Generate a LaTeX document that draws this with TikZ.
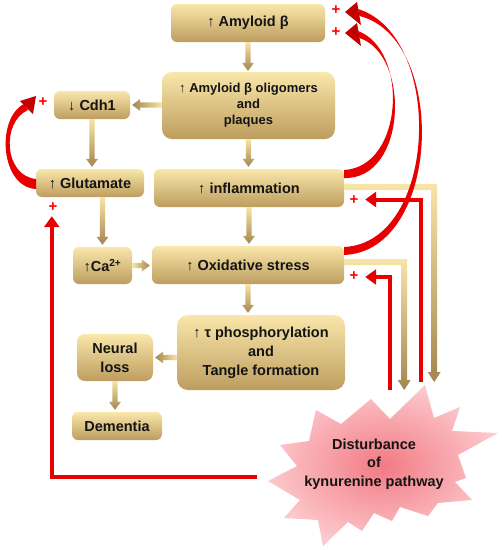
\documentclass[tikz,border=0pt]{standalone}
\usepackage{fontspec}
\setmainfont{Liberation Sans}
\usetikzlibrary{arrows.meta,calc}
\definecolor{boxL}{HTML}{FAE7AA}
\definecolor{boxM}{HTML}{E4CA8B}
\definecolor{boxD}{HTML}{BD9D5F}
\definecolor{goldL}{HTML}{F8E4A6}
\definecolor{goldD}{HTML}{A4864F}
\definecolor{redA}{HTML}{E80000}
\definecolor{redH}{HTML}{C20000}
\definecolor{plusR}{HTML}{FF0000}
\definecolor{pinkC}{HTML}{F27A84}
\definecolor{pinkE}{HTML}{FCC8CB}
\newcommand\gdown[3]{\shade[top color=goldL,bottom color=goldD] let \p1=(#1),\p2=(#2),\p3=(#3) in (\x1-2.6pt,\y2) -- (\x1+2.6pt,\y2) -- (\x1+2.6pt,\y3+8pt) -- (\x1+6pt,\y3+8pt) -- (\x1,\y3) -- (\x1-6pt,\y3+8pt) -- (\x1-2.6pt,\y3+8pt) -- cycle;}
\newcommand\gleft[3]{\shade[left color=goldD,right color=goldL] let \p1=(#1),\p2=(#2),\p3=(#3) in (\x2,\y1+2.6pt) -- (\x3+8pt,\y1+2.6pt) -- (\x3+8pt,\y1+6pt) -- (\x3,\y1) -- (\x3+8pt,\y1-6pt) -- (\x3+8pt,\y1-2.6pt) -- (\x2,\y1-2.6pt) -- cycle;}
\newcommand\gright[3]{\shade[left color=goldL,right color=goldD] let \p1=(#1),\p2=(#2),\p3=(#3) in (\x2,\y1+2.6pt) -- (\x3-8pt,\y1+2.6pt) -- (\x3-8pt,\y1+6pt) -- (\x3,\y1) -- (\x3-8pt,\y1-6pt) -- (\x3-8pt,\y1-2.6pt) -- (\x2,\y1-2.6pt) -- cycle;}
\tikzset{
  box/.style={rounded corners=6pt, top color=boxL, middle color=boxM, bottom color=boxD,
    inner sep=0pt, align=center, text=black!92, font=\bfseries\fontsize{14.5}{19}\selectfont},
  redln/.style={draw=redA, line width=4pt, line join=miter, -{Triangle[length=11pt,width=15pt]}},
  plus/.style={text=plusR, font=\bfseries\fontsize{15}{15}\selectfont, inner sep=0pt},
}
\begin{document}
\begin{tikzpicture}[x=1pt,y=-1pt]
\useasboundingbox (0,0) rectangle (502,550);
\fill[white] (0,0) rectangle (502,550);

% starburst
\shade[inner color=pinkC, outer color=pinkE]
 (425,385) -- (434,418) -- (460,407) -- (452,431) -- (498,433) -- (458,455) -- (466,478) -- (455,482)
 -- (472,500) -- (438,503) -- (428,516) -- (400,507) -- (392,521) -- (374,513) -- (362,531) -- (348,522)
 -- (323,546) -- (318,520) -- (284,518) -- (300,500) -- (268,481) -- (297,466) -- (280,445) -- (309,441)
 -- (316,410) -- (341,424) -- (371,399) -- (390,419) -- cycle;
\node[align=center, inner sep=0pt, text=black!92, font=\bfseries\fontsize{14.5}{18.5}\selectfont] (kyn) at (374,464) {Disturbance\\of\\kynurenine pathway};

% boxes
\node[box, minimum width=154pt, minimum height=38pt] (amy) at (248,23) {↑ Amyloid β};
\node[box, rounded corners=10pt, minimum width=173pt, minimum height=67pt, font=\bfseries\fontsize{13}{16}\selectfont] (olig) at (248.5,105.5) {↑ Amyloid β oligomers\\and\\plaques};
\node[box, minimum width=76pt, minimum height=28pt] (cdh) at (92,105) {↓ Cdh1};
\node[box, minimum width=108pt, minimum height=28pt] (glu) at (90,183) {↑ Glutamate};
\node[box, minimum width=190pt, minimum height=38pt] (infl) at (249,188) {↑ inflammation};
\node[box, minimum width=59pt, minimum height=37pt] (ca) at (102.5,265.5) {↑Ca\textsuperscript{2+}};
\node[box, minimum width=192pt, minimum height=38pt] (ox) at (248,265) {↑ Oxidative stress};
\node[box, rounded corners=11pt, minimum width=168pt, minimum height=75pt] (tau) at (261,352.5) {↑ τ phosphorylation\\and\\Tangle formation};
\node[box, rounded corners=8pt, minimum width=76pt, minimum height=47pt] (neu) at (115,357.5) {Neural\\loss};
\node[box, minimum width=90pt, minimum height=28pt] (dem) at (117,426) {Dementia};

% gold arrows between boxes
\gdown{amy.south}{amy.south}{$(olig.north)+(0,-1)$}
\gleft{cdh.east}{olig.west}{$(cdh.east)+(2,0)$}
\gdown{cdh.south}{cdh.south}{$(glu.north)+(0,-2)$}
\gdown{olig.south}{olig.south}{$(infl.north)+(0,-2)$}
\gdown{ca.north}{glu.south}{$(ca.north)+(0,-2)$}
\gright{ca.east}{ca.east}{$(ox.west)+(-2,0)$}
\gdown{infl.south}{infl.south}{$(ox.north)+(0,-2)$}
\gdown{ox.south}{ox.south}{$(tau.north)+(0,-2)$}
\gleft{neu.east}{tau.west}{$(neu.east)+(2,0)$}
\gdown{neu.south}{neu.south}{$(dem.north)+(0,-2)$}

% gold L-shaped arrows to the kynurenine pathway
\shade[top color=goldL, bottom color=goldD] ($(infl.east)+(0,-4)$) -- ++(93,0) -- ++(0,188) -- ++(3.5,0) -- ++(-6.5,10) -- ++(-6.5,-10) -- ++(3.5,0) -- ++(0,-182) -- ++(-87,0) -- cycle;
\shade[top color=goldL, bottom color=goldD] ($(ox.east)+(0,-6)$) -- ++(63,0) -- ++(0,121) -- ++(3.5,0) -- ++(-6.5,10) -- ++(-6.5,-10) -- ++(3.5,0) -- ++(0,-115) -- ++(-57,0) -- cycle;

% red straight arrows from the kynurenine pathway
\coordinate (kL) at (257,477);
\coordinate (kI) at (421,382);
\coordinate (kO) at (390,390);
\coordinate (tGlu) at ($(glu.south west)+(16,19)$);
\coordinate (tInf) at ($(infl.east)+(21,11.5)$);
\coordinate (tOx) at ($(ox.east)+(21,12)$);
\draw[redln] (kL) -| (tGlu);
\draw[redln] (kI) |- (tInf);
\draw[redln] (kO) |- (tOx);

% red curved arrows
\fill[redA] (344,170) .. controls (404,167) and (409,50) .. (358,31) -- (359.5,38) .. controls (411,55) and (407,180) .. (344,178) -- cycle;
\fill[redH] (345,33) -- (357,23) -- (361,46) -- cycle;
\fill[redA] (344,247) .. controls (438,243) and (445,36) .. (358,9) -- (359.5,16) .. controls (448,38) and (442,251) .. (344,255) -- cycle;
\fill[redH] (345,12) -- (357,2) -- (361,25) -- cycle;
\fill[redA] (36,179) .. controls (4,176) and (1,122) .. (28,110) -- (24,104) .. controls (-4,118) and (0,187) .. (36,189) -- cycle;
\fill[redH] (36,96) -- (20,101) -- (33,114) -- cycle;

% plus signs
\node[plus] (p1) at (336,10) {+};
\node[plus] (p2) at (336,32) {+};
\node[plus] (p3) at (43,102) {+};
\node[plus] (p4) at (53,207) {+};
\node[plus] (p5) at (354,200) {+};
\node[plus] (p6) at (354,276) {+};
\end{tikzpicture}
\end{document}
